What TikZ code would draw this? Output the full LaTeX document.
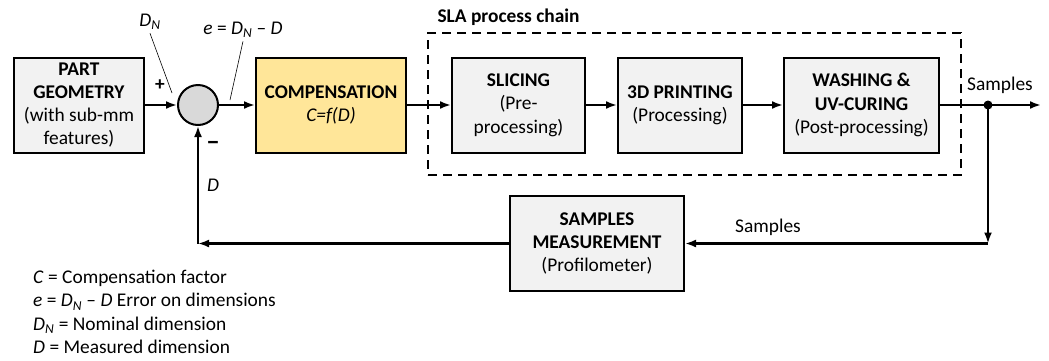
\documentclass[tikz,border=0pt]{standalone}
\usepackage{fontspec}
\setmainfont{Carlito}
\usetikzlibrary{arrows.meta}
\tikzset{>={Latex[length=11pt,width=8pt]}}

\definecolor{boxgray}{HTML}{F2F2F2}
\definecolor{sumgray}{HTML}{D9D9D9}
\definecolor{compyellow}{HTML}{FFE699}

\begin{document}
\begin{tikzpicture}[x=1pt,y=-1pt,
  every node/.style={font=\fontsize{19.4}{23.3}\selectfont},
  block/.style={draw,line width=2pt,fill=boxgray,align=center,inner sep=0pt,minimum height=95pt},
  flow/.style={->,line width=2.4pt},
  lead/.style={line width=0.6pt}]
  \useasboundingbox (0,0) rectangle (1049,360);

  %% forward path
  \node[block,minimum width=130pt] (part) at (79,105)
    {\textbf{PART}\\\textbf{GEOMETRY}\\(with sub-mm\\features)};
  \node[draw,circle,line width=2pt,fill=sumgray,minimum size=40pt,inner sep=0pt] (sum) at (198,105) {};
  \node[block,fill=compyellow,minimum width=150pt] (comp) at (331,105)
    {\textbf{COMPENSATION}\\\textit{C=f(D)}};

  %% process chain
  \node[draw,dashed,line width=2pt,dash pattern=on 9pt off 6pt,minimum width=533pt,minimum height=142pt] (chain) at (694.5,104) {};
  \node[anchor=west] (chainlabel) at (434,17) {\textbf{SLA process chain}};
  \node[block,minimum width=133pt] (slicing) at (518.5,105) {\textbf{SLICING}\\(Pre-\\processing)};
  \node[block,minimum width=124pt] (printing) at (680,105) {\textbf{3D PRINTING}\\(Processing)};
  \node[block,minimum width=155pt] (washing) at (861.5,105) {\textbf{WASHING \&}\\\textbf{UV-CURING}\\(Post-processing)};

  %% feedback path
  \node[block,minimum width=174pt] (meas) at (597,243.5) {\textbf{SAMPLES}\\\textbf{MEASUREMENT}\\(Profilometer)};
  \node[circle,fill,inner sep=0pt,minimum size=9pt] (split) at (988,105) {};
  \coordinate (out) at (1041,105);
  \coordinate (turn) at (988,243.5);
  \coordinate (back) at (198,243.5);

  \draw[flow] (part) -- (sum);
  \draw[flow] (sum) -- (comp);
  \draw[flow] (comp) -- (slicing);
  \draw[flow] (slicing) -- (printing);
  \draw[flow] (printing) -- (washing);
  \draw[flow] (washing) -- (out);
  \draw[flow] (split.center) -- (turn);
  \draw[flow] (turn) -- (meas);
  \draw[flow] (meas) -- (back);
  \draw[flow] (back) -- (sum);

  %% signal labels
  \node (dn) at (150,22) {\textit{D\textsubscript{N}}};
  \coordinate (dntip) at (172,93);
  \draw[lead] (dn.south) -- (dntip);
  \node (err) at (243,30) {\textit{e} = \textit{D\textsubscript{N}} – \textit{D}};
  \coordinate (errtip) at (230,100);
  \draw[lead] (err.south) -- (errtip);
  \node (plus) at (160,85) {\textbf{+}};
  \node[font=\fontsize{25}{25}\selectfont\bfseries] (minus) at (213,146) {−};
  \node (dfb) at (213,185) {\textit{D}};
  \node (sampout) at (1000,85) {Samples};
  \node (sampback) at (768,227) {Samples};

  %% legend
  \node[anchor=north west,align=left,inner sep=0pt] (legend) at (33,270)
    {\textit{C} = Compensation factor\\
     \textit{e} = \textit{D\textsubscript{N}} – \textit{D} Error on dimensions\\
     \textit{D\textsubscript{N}} = Nominal dimension\\
     \textit{D} = Measured dimension};
\end{tikzpicture}
\end{document}
